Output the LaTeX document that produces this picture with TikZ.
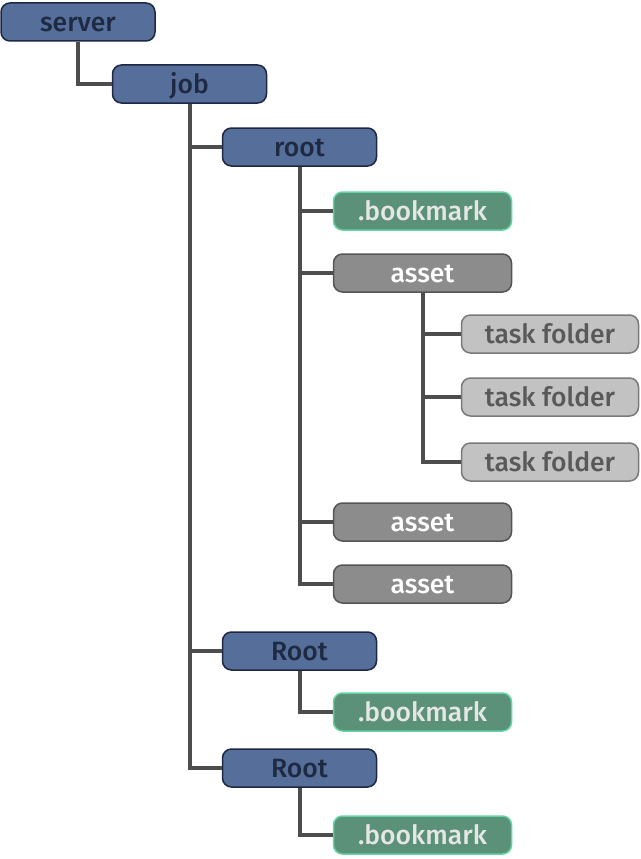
\documentclass[tikz,border=0pt]{standalone}
\usepackage{fontspec}
\setmainfont{Fira Sans}[UprightFont={* Medium}]
\definecolor{bluefill}{HTML}{566E9A}
\definecolor{blueline}{HTML}{1E2840}
\definecolor{bluetext}{HTML}{1E2A42}
\definecolor{greenfill}{HTML}{5A9178}
\definecolor{greenline}{HTML}{62D3A2}
\definecolor{greentext}{HTML}{E6E6E6}
\definecolor{assetfill}{HTML}{8C8C8C}
\definecolor{assetline}{HTML}{555555}
\definecolor{taskfill}{HTML}{C2C2C2}
\definecolor{taskline}{HTML}{7A7A7A}
\definecolor{tasktext}{HTML}{595959}
\definecolor{connc}{HTML}{4D4D4D}
\tikzset{
  box/.style={rounded corners=9pt, inner sep=0pt, line width=1.5pt,
    minimum height=38pt, text height=18.4pt, text depth=0pt,
    font=\fontsize{26.5}{26.5}\selectfont},
  bluebox/.style={box, fill=bluefill, draw=blueline, text=bluetext, minimum width=154pt},
  greenbox/.style={box, fill=greenfill, draw=greenline, text=greentext, minimum width=178pt},
  assetbox/.style={box, fill=assetfill, draw=assetline, text=white, minimum width=178pt},
  taskbox/.style={box, fill=taskfill, draw=taskline, text=tasktext, minimum width=177pt},
  conn/.style={draw=connc, line width=4pt}
}
\begin{document}
\begin{tikzpicture}[x=1pt,y=-1pt]
\useasboundingbox (0,0) rectangle (640,859);
\node[bluebox] (server) at (78,22) {server};
\node[bluebox] (job) at (189.5,84) {job};
\node[bluebox] (root) at (299.5,147) {root};
\node[greenbox] (bm1) at (422.5,211) {.bookmark};
\node[assetbox] (asset1) at (422.5,273) {asset};
\node[taskbox] (tf1) at (550,334) {task folder};
\node[taskbox] (tf2) at (550,397) {task folder};
\node[taskbox] (tf3) at (550,462) {task folder};
\node[assetbox] (asset2) at (422.5,522) {asset};
\node[assetbox] (asset3) at (422.5,584) {asset};
\node[bluebox] (root2) at (299.5,651) {Root};
\node[greenbox] (bm2) at (422.5,712) {.bookmark};
\node[bluebox] (root3) at (299.5,768) {Root};
\node[greenbox] (bm3) at (422.5,835) {.bookmark};

\draw[conn] (server.south) |- (job.west);
\draw[conn] (job.south) |- (root.west);
\draw[conn] (job.south) |- (root2.west);
\draw[conn] (job.south) |- (root3.west);
\draw[conn] (root.south) |- (bm1.west);
\draw[conn] (root.south) |- (asset1.west);
\draw[conn] (root.south) |- (asset2.west);
\draw[conn] (root.south) |- (asset3.west);
\draw[conn] (asset1.south) |- (tf1.west);
\draw[conn] (asset1.south) |- (tf2.west);
\draw[conn] (asset1.south) |- (tf3.west);
\draw[conn] (root2.south) |- (bm2.west);
\draw[conn] (root3.south) |- (bm3.west);
\end{tikzpicture}
\end{document}
